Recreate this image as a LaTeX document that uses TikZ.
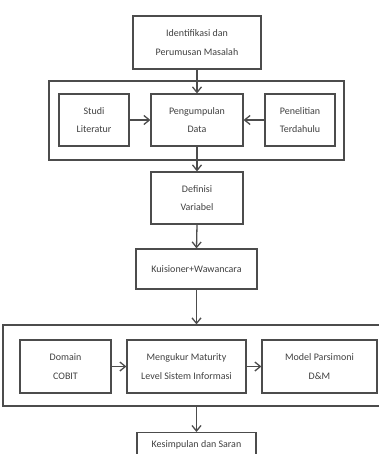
\documentclass[tikz,border=0pt]{standalone}
\usepackage{fontspec}
\setmainfont{Carlito}
\usetikzlibrary{arrows.meta}
\begin{document}
\begin{tikzpicture}[x=1pt,y=-1pt,
  box/.style={draw=black!70, line width=1.2pt, rectangle, inner sep=0pt, align=center,
    font=\fontsize{10}{18.5}\selectfont, text=black!75},
  arr/.style={-{Straight Barb[length=5.5pt,width=9pt]}, line width=1.3pt, draw=black!70}]
\useasboundingbox (0,0) rectangle (379,454);
\clip (0,0) rectangle (379,454);
\node[box, minimum width=128pt, minimum height=53pt] (ident) at (197,42.5) {Identifikasi dan\\Perumusan Masalah};
\node[box, minimum width=295pt, minimum height=79pt] (outerA) at (196.5,120.5) {};
\node[box, minimum width=70pt, minimum height=52pt] (studi) at (94,120) {Studi\\Literatur};
\node[box, minimum width=92pt, minimum height=52pt] (peng) at (197,120) {Pengumpulan\\Data};
\node[box, minimum width=70pt, minimum height=52pt] (penel) at (300,120) {Penelitian\\Terdahulu};
\node[box, minimum width=92pt, minimum height=52pt] (defi) at (197,198) {Definisi\\Variabel};
\node[box, minimum width=121pt, minimum height=40pt] (kuis) at (196.5,269) {Kuisioner+Wawancara};
\node[box, minimum width=387pt, minimum height=81pt] (outerB) at (196.5,365.5) {};
\node[box, minimum width=91pt, minimum height=53pt] (domain) at (65.5,366.5) {Domain\\COBIT};
\node[box, minimum width=119pt, minimum height=53pt] (meng) at (186.5,366.5) {Mengukur Maturity\\Level Sistem Informasi};
\node[box, minimum width=115pt, minimum height=53pt] (model) at (319.5,366.5) {Model Parsimoni\\D\&M};
\node[box, minimum width=119pt, anchor=north, inner ysep=8pt] (kes) at (196.5,432) {Kesimpulan dan Saran};
\draw[arr] (ident.south) -- (peng.north);
\draw[arr] (studi.east) -- (peng.west);
\draw[arr] (penel.west) -- (peng.east);
\draw[arr] (peng.south) -- (defi.north);
\draw[arr] (defi.south) -- (kuis.north);
\draw[arr] (kuis.south) -- (outerB.north);
\draw[arr] (domain.east) -- (meng.west);
\draw[arr] (meng.east) -- (model.west);
\draw[arr] (outerB.south) -- (kes.north);
\end{tikzpicture}
\end{document}
